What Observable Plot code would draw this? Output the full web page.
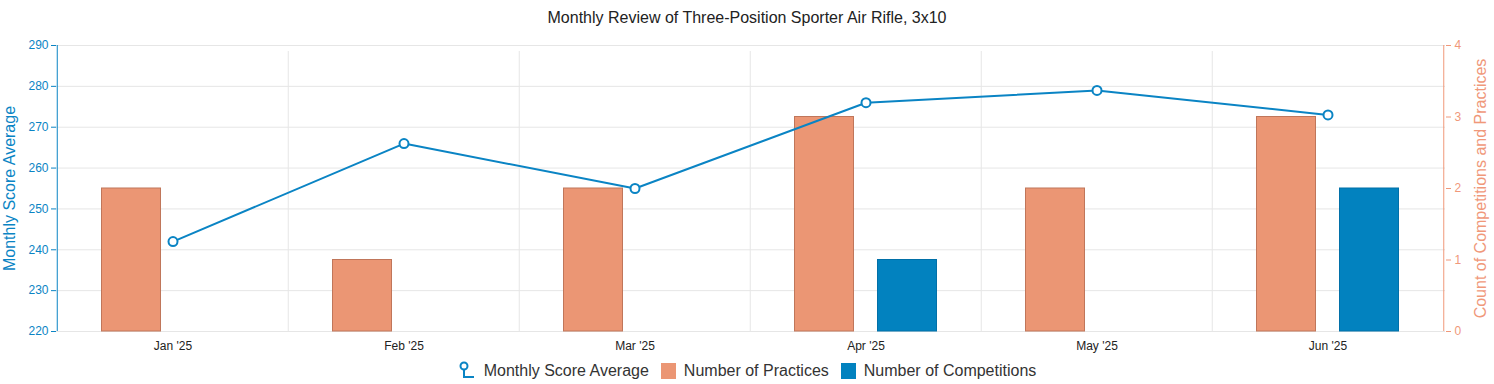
<!DOCTYPE html>
<html><head><meta charset="utf-8">
<script src="https://cdn.jsdelivr.net/npm/d3@7"></script>
<script src="https://cdn.jsdelivr.net/npm/@observablehq/plot@0.6"></script>
<style>
body{margin:0;background:#fff;font-family:"Liberation Sans",Arial,sans-serif;}
#title{height:36px;line-height:36px;text-align:center;font-size:16px;color:#222;}
#legend{height:26px;display:flex;justify-content:center;align-items:center;font-size:16px;color:#333;}
#legend .item{display:flex;align-items:center;margin:0 6px;}
#legend .sw{width:15px;height:16px;margin-right:8px;}
#legend svg{margin-right:8px;}
</style></head><body>
<div id="title">Monthly Review of Three-Position Sporter Air Rifle, 3x10</div>
<div id="chart"></div>
<div id="legend"></div>
<script>
const months = ["Jan '25", "Feb '25", "Mar '25", "Apr '25", "May '25", "Jun '25"];
const scoreAverage = [242, 266, 255, 276, 279, 273];
const practices = [2, 1, 2, 3, 2, 3];
const competitions = [0, 0, 0, 1, 0, 2];
const scoreTicks = [220, 230, 240, 250, 260, 270, 280, 290];
const countTicks = [0, 1, 2, 3, 4];

const blue = "#0a84c4";
const compBlue = "#0282bf";
const salmon = "#eb9674";
const salmonStroke = "#c0765a";
const salmonText = "#f0987a";

const width = 1494, height = 322;
const marginLeft = 56, marginRight = 49, marginTop = 9, marginBottom = 27;
const step = (width - marginLeft - marginRight) / months.length;
const barOffset = 41.5;

const sMin = scoreTicks[0], sMax = scoreTicks[scoreTicks.length - 1];
const cMin = countTicks[0], cMax = countTicks[countTicks.length - 1];
const toScore = c => sMin + (c - cMin) * (sMax - sMin) / (cMax - cMin);
const fromScore = s => cMin + (s - sMin) * (cMax - cMin) / (sMax - sMin);

const table = months.map((m, i) => ({month: m, score: scoreAverage[i], practices: practices[i], competitions: competitions[i]}));

const chart = Plot.plot({
  width, height, marginLeft, marginRight, marginTop, marginBottom,
  style: {fontFamily: '"Liberation Sans", Arial, sans-serif', background: "#fff"},
  x: {type: "band", domain: months, paddingInner: 0.743, paddingOuter: 0.3715, label: null},
  y: {domain: [sMin, sMax], label: null},
  marks: [
    Plot.gridY(scoreTicks, {stroke: "#e6e6e6", strokeOpacity: 1}),
    Plot.ruleX(months.slice(1), {x: d => d, dx: -step / 2, y1: sMin, y2: sMax, insetBottom: -6, stroke: "#e6e6e6"}),
    Plot.ruleX(months.slice(0, 1), {x: d => d, dx: -step / 2, y1: sMin, y2: sMax, stroke: blue}),
    Plot.ruleX(months.slice(-1), {x: d => d, dx: step / 2, y1: sMin, y2: sMax, stroke: salmonText}),
    Plot.barY(table.filter(d => d.practices > 0), {x: "month", y1: sMin, y2: d => toScore(d.practices), dx: -barOffset, fill: salmon, stroke: salmonStroke, strokeWidth: 1}),
    Plot.barY(table.filter(d => d.competitions > 0), {x: "month", y1: sMin, y2: d => toScore(d.competitions), dx: barOffset, fill: compBlue, stroke: "#0170a8", strokeWidth: 1}),
    Plot.line(table, {x: "month", y: "score", stroke: blue, strokeWidth: 2}),
    Plot.dot(table, {x: "month", y: "score", r: 4.5, fill: "white", stroke: blue, strokeWidth: 2}),
    Plot.axisY(scoreTicks, {anchor: "left", color: blue, tickSize: 5, tickPadding: 3, fontSize: 12, label: null}),
    Plot.axisY(countTicks.map(toScore), {anchor: "right", color: salmonText, tickSize: 5, tickPadding: 4, fontSize: 12, label: null, tickFormat: v => d3.format("d")(Math.round(fromScore(v)))}),
    Plot.axisX({tickSize: 0, tickPadding: 10, fontSize: 12, color: "#222", label: null}),
    Plot.text(["Monthly Score Average"], {frameAnchor: "left", textAnchor: "middle", rotate: -90, dx: -47, fontSize: 16, fill: blue}),
    Plot.text(["Count of Competitions and Practices"], {frameAnchor: "right", textAnchor: "middle", rotate: -90, dx: 35, fontSize: 16, fill: salmonText})
  ]
});
document.getElementById("chart").appendChild(chart);

const legend = document.getElementById("legend");
legend.innerHTML = `
<div class="item"><svg width="18" height="20" viewBox="0 0 18 20"><path d="M6 7 V16 H16" fill="none" stroke="${blue}" stroke-width="2"/><circle cx="6" cy="5" r="3.5" fill="white" stroke="${blue}" stroke-width="2"/></svg>Monthly Score Average</div>
<div class="item"><div class="sw" style="background:${salmon}"></div>Number of Practices</div>
<div class="item"><div class="sw" style="background:${compBlue}"></div>Number of Competitions</div>`;
</script>
</body></html>
